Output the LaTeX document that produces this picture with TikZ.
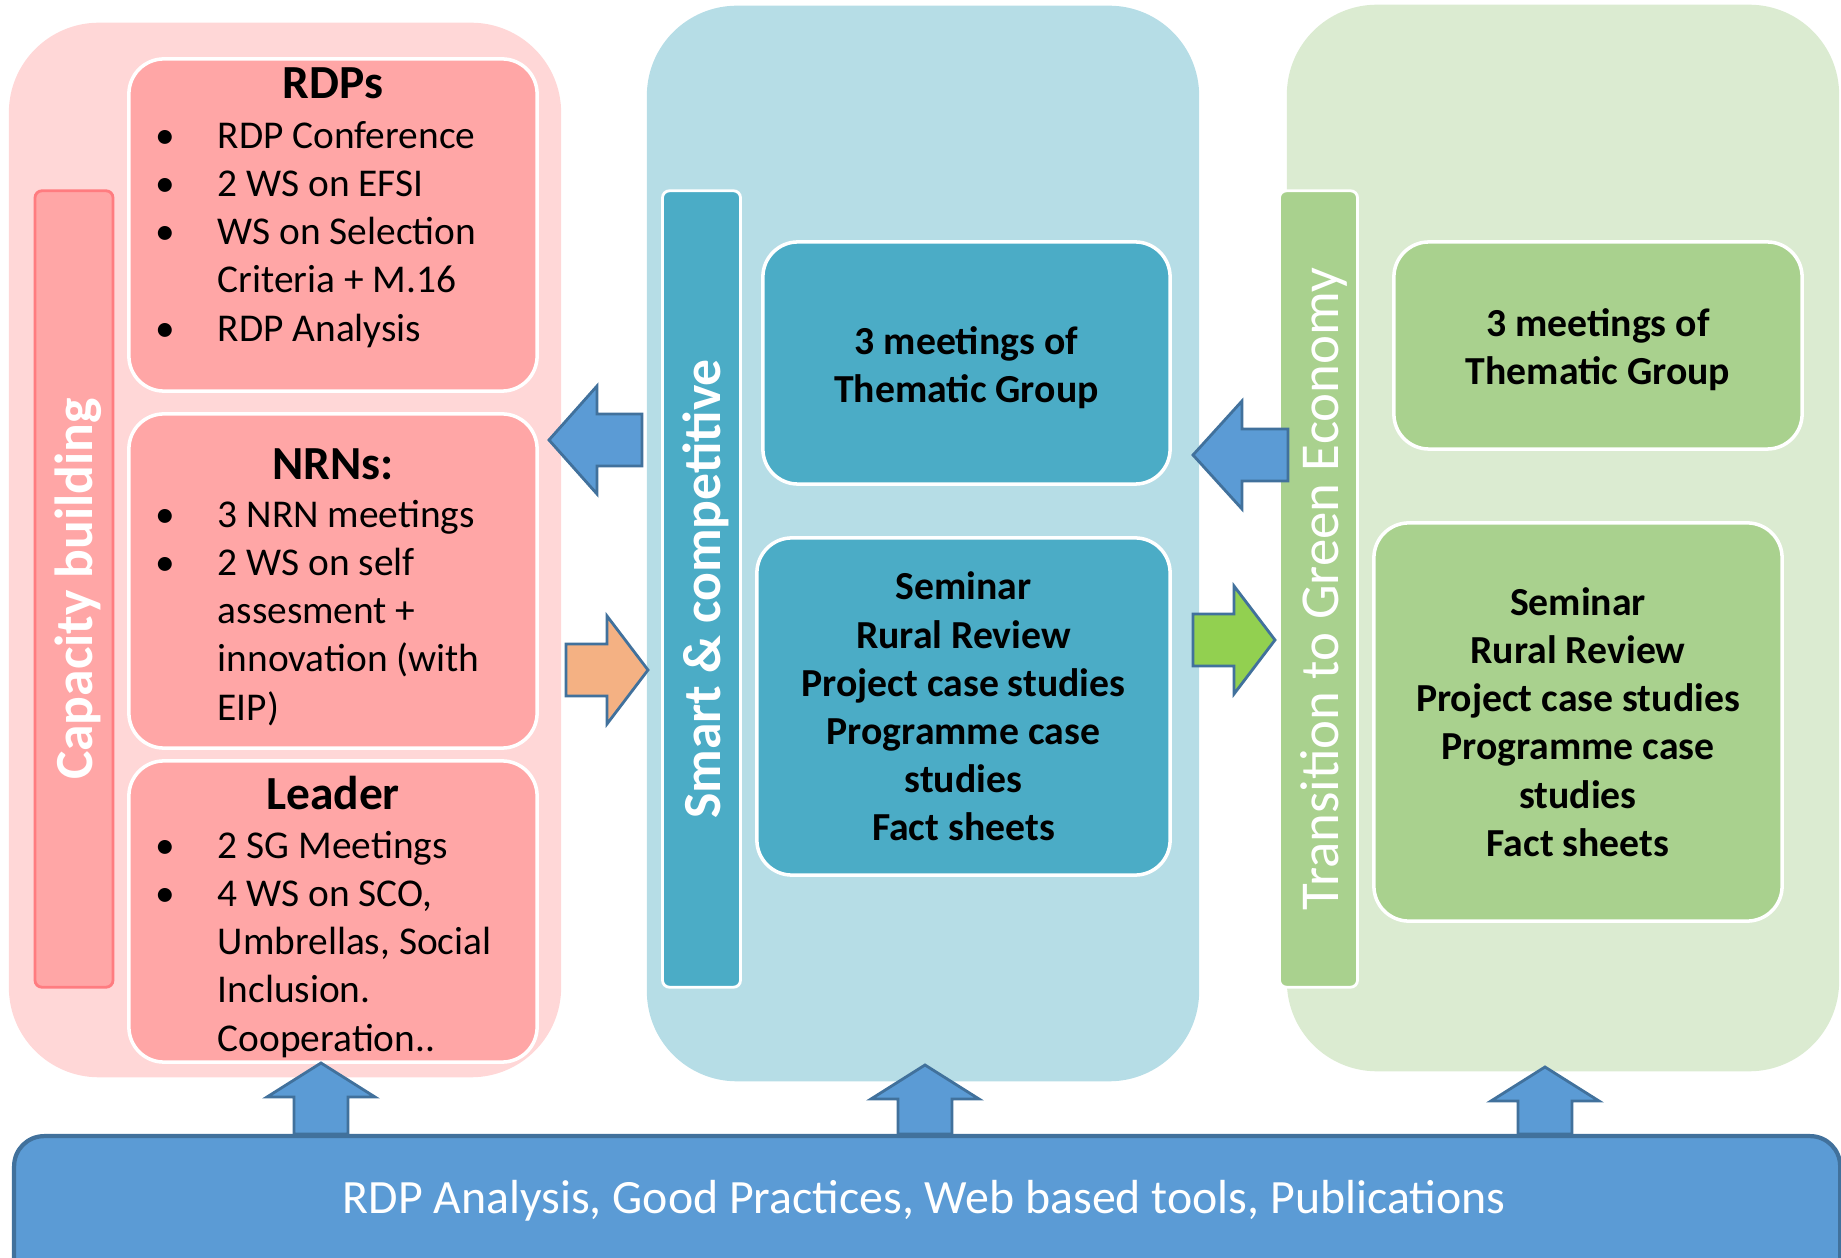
\documentclass[tikz,border=0pt]{standalone}
\usepackage{fontspec}
\setmainfont{Carlito}
\usetikzlibrary{positioning}

\definecolor{pinkbg}{RGB}{255,215,215}
\definecolor{pinkbox}{RGB}{255,166,166}
\definecolor{pinkline}{RGB}{255,124,128}
\definecolor{bluebg}{RGB}{182,221,230}
\definecolor{bluebox}{RGB}{75,172,198}
\definecolor{greenbg}{RGB}{219,235,209}
\definecolor{greenbox}{RGB}{169,209,142}
\definecolor{barblue}{RGB}{91,155,213}
\definecolor{barline}{RGB}{65,113,156}
\definecolor{arrorange}{RGB}{244,177,131}
\definecolor{arrgreen}{RGB}{146,208,80}

\newcommand{\bl}{\strut\makebox[0.62cm][l]{\textbullet}}
\newcommand{\ind}{\strut\hspace*{0.62cm}}

\begin{document}
\begin{tikzpicture}[x=0.01cm, y=-0.01cm,
  panel/.style={rounded corners=0.9cm, minimum width=5.52cm, inner sep=0pt},
  sidebar/.style={rounded corners=2pt, minimum width=0.78cm, minimum height=7.96cm,
    inner sep=0pt, draw=white, line width=0.8pt},
  itembox/.style={rounded corners=0.35cm, draw=white, line width=1pt, inner sep=0pt},
  bartitle/.style={rotate=90, text=white, inner sep=0pt,
    font=\fontsize{15.25}{18}\selectfont\bfseries},
  listtext/.style={anchor=north west, align=left, inner sep=0pt,
    font=\fontsize{11.2}{13.7}\selectfont},
  boxtitle/.style={anchor=base, inner sep=0pt, font=\fontsize{13.5}{16}\selectfont\bfseries},
  boxtext/.style={align=center, font=\fontsize{11.3}{13.7}\selectfont\bfseries},
  blockarrow/.style={draw=barline, line width=0.8pt, line join=miter}
]
  \useasboundingbox (0,0) rectangle (1841,1258);
  \clip (0,0) rectangle (1841,1258);

  % the three columns
  \node[panel, fill=pinkbg, minimum height=10.54cm] (cap) at (285,550) {};
  \node[panel, fill=bluebg, minimum height=10.75cm] (smart) at (923,543.5) {};
  \node[panel, fill=greenbg, minimum height=10.66cm] (green) at (1563,538) {};

  \node[sidebar, fill=pinkbox, draw=pinkline] (capbar) at (74,589) {};
  \node[bartitle] (captitle) at ([xshift=0.045cm]capbar) {Capacity building};
  \node[sidebar, fill=bluebox] (smartbar) at (701.5,589) {};
  \node[bartitle] (smarttitle) at ([xshift=0.045cm]smartbar) {Smart \& competitive};
  \node[sidebar, fill=greenbox] (greenbar) at (1318.5,589) {};
  \node[bartitle, font=\fontsize{15.6}{18}\selectfont] (greentitle)
    at ([xshift=0.05cm]greenbar) {Transition to Green Economy};

  % capacity building
  \node[itembox, fill=pinkbox, minimum width=4.08cm, minimum height=3.32cm] (rdp) at (333,225) {};
  \node[itembox, fill=pinkbox, minimum width=4.08cm, minimum height=3.34cm] (nrn) at (333,581) {};
  \node[itembox, fill=pinkbox, minimum width=4.08cm, minimum height=3.01cm] (leader) at (333,911.5) {};

  \node[boxtitle] (rdptitle) at (333,99) {RDPs};
  \node[listtext] (rdplist) at (155,114)
    {\bl RDP Conference\\ \bl 2 WS on EFSI\\ \bl WS on Selection\\
     \ind Criteria + M.16\\ \bl RDP Analysis};
  \node[boxtitle] (nrntitle) at (333,480) {NRNs:};
  \node[listtext] (nrnlist) at (155,493)
    {\bl 3 NRN meetings\\ \bl 2 WS on self\\ \ind assesment +\\
     \ind innovation (with\\ \ind EIP)};
  \node[boxtitle] (leadertitle) at (333,810) {Leader};
  \node[listtext] (leaderlist) at (155,824)
    {\bl 2 SG Meetings\\ \bl 4 WS on SCO,\\ \ind Umbrellas, Social\\
     \ind Inclusion.\\ \ind Cooperation..};

  % smart & competitive
  \node[itembox, boxtext, fill=bluebox, minimum width=4.07cm, minimum height=2.42cm]
    (smarttg) at (966.5,363) {\rule{0pt}{10.5pt}3 meetings of\\Thematic Group};
  \node[itembox, boxtext, fill=bluebox, minimum width=4.13cm, minimum height=3.37cm]
    (smartpub) at (963.5,706.5)
    {Seminar\\Rural Review\\Project case studies\\Programme case\\studies\\Fact sheets};

  % green economy
  \node[itembox, boxtext, fill=greenbox, minimum width=4.08cm, minimum height=2.07cm]
    (greentg) at (1598,345.5) {\rule{0pt}{10.5pt}3 meetings of\\Thematic Group};
  \node[itembox, boxtext, fill=greenbox, minimum width=4.08cm, minimum height=3.98cm]
    (greenpub) at (1578,722)
    {Seminar\\Rural Review\\Project case studies\\Programme case\\studies\\Fact sheets};

  % arrows between the columns
  \foreach \tx/\ty/\hx/\ex/\col in {549/440/597/642/barblue, 648/670/607/566/arrorange,
      1193/455/1242/1288/barblue, 1275/640/1234/1193/arrgreen} {
    \filldraw[blockarrow, fill=\col] (\tx,\ty) -- (\hx,\ty-54) -- (\hx,\ty-26)
      -- (\ex,\ty-26) -- (\ex,\ty+26) -- (\hx,\ty+26) -- (\hx,\ty+54) -- cycle;
  }

  % resources
  \node[draw=barline, fill=barblue, line width=1.2pt, rounded corners=0.3cm,
    minimum width=18.25cm, minimum height=1.9cm, inner sep=0pt, anchor=north west]
    (res) at (12,1134) {};
  \node[anchor=base, inner sep=0pt, text=white, font=\fontsize{13.6}{16}\selectfont]
    (restext) at (924,1213) {RDP Analysis, Good Practices, Web based tools, Publications};

  \foreach \cx/\ty in {321/1063, 925/1065, 1545/1067} {
    \filldraw[blockarrow, fill=barblue] (\cx,\ty) -- (\cx+54,\ty+34) -- (\cx+27,\ty+34)
      -- (\cx+27,1134) -- (\cx-27,1134) -- (\cx-27,\ty+34) -- (\cx-54,\ty+34) -- cycle;
  }
\end{tikzpicture}
\end{document}
